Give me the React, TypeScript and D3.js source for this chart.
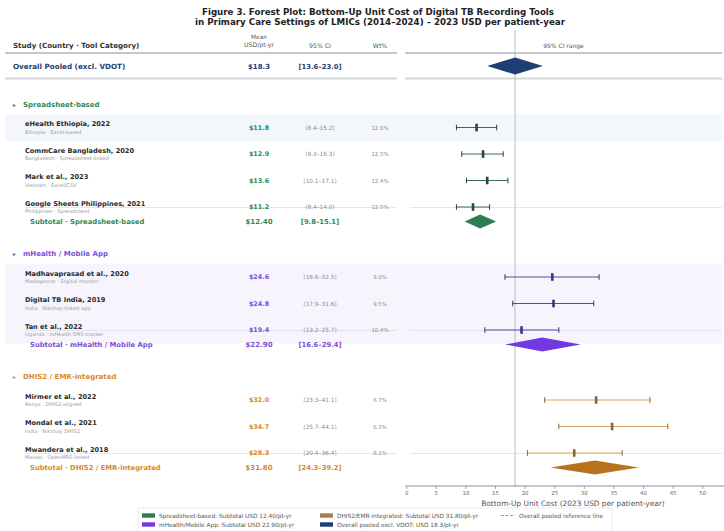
import React from "react";
import * as d3 from "d3";

// ---- data -------------------------------------------------------------
const groupNames = ["Spreadsheet-based", "mHealth / Mobile App", "DHIS2 / EMR-integrated"];
const groupText = ["#2e8b57", "#7a4fd6", "#d98a2b"];
const groupFill = ["#2e7d4f", "#7338e0", "#b8721c"];
const groupLine = ["#3d6b55", "#5a4a9e", "#d4a865"];
const groupMark = ["#234a38", "#3f2f86", "#8a6433"];
const groupShade = ["#f3f6fa", "#f6f5fd", "#ffffff"];

const studyNames = [
  "eHealth Ethiopia, 2022",
  "CommCare Bangladesh, 2020",
  "Mark et al., 2023",
  "Google Sheets Philippines, 2021",
  "Madhavaprasad et al., 2020",
  "Digital TB India, 2019",
  "Tan et al., 2022",
  "Mirmer et al., 2022",
  "Mondal et al., 2021",
  "Mwandera et al., 2018",
];
const studySubtitles = [
  "Ethiopia · Excel-based",
  "Bangladesh · Spreadsheet-linked",
  "Vietnam · Excel/CSV",
  "Philippines · Spreadsheet",
  "Madagascar · Digital monitor",
  "India · Nikshay-linked app",
  "Uganda · mHealth SMS tracker",
  "Kenya · DHIS2-aligned",
  "India · Nikshay DHIS2",
  "Malawi · OpenMRS-linked",
];
const studyGroup = [0, 0, 0, 0, 1, 1, 1, 2, 2, 2];
const studyMeans = [11.8, 12.9, 13.6, 11.2, 24.6, 24.8, 19.4, 32.0, 34.7, 28.3];
const studyLow = [8.4, 9.3, 10.1, 8.4, 16.6, 17.9, 13.2, 23.3, 25.7, 20.4];
const studyHigh = [15.2, 16.3, 17.1, 14.0, 32.5, 31.6, 25.7, 41.1, 44.1, 36.4];
const studyWeights = [12.6, 12.5, 12.4, 12.5, 9.0, 9.5, 10.4, 6.7, 6.3, 8.1];
const studyShaded = [true, false, false, false, true, true, true, false, false, false];

const subtotalMeans = [12.4, 22.9, 31.8];
const subtotalLow = [9.8, 16.6, 24.3];
const subtotalHigh = [15.1, 29.4, 39.2];

const overallMean = 18.3;
const overallLow = 13.6;
const overallHigh = 23.0;

const xTicks = [0, 5, 10, 15, 20, 25, 30, 35, 40, 45, 50];

const legendItems = [
  { label: "Spreadsheet-based: Subtotal USD 12.40/pt-yr", color: groupFill[0], col: 0, row: 0 },
  { label: "mHealth/Mobile App: Subtotal USD 22.90/pt-yr", color: groupFill[1], col: 0, row: 1 },
  { label: "DHIS2/EMR-integrated: Subtotal USD 31.80/pt-yr", color: "#a67c52", col: 1, row: 0 },
  { label: "Overall pooled excl. VDOT: USD 18.3/pt-yr", color: "#1f3f73", col: 1, row: 1 },
];

// ---- layout -----------------------------------------------------------
const W = 724;
const H = 531;
const FONT = "DejaVu Sans, Verdana, sans-serif";
const NAVY = "#1f3f73";

const xCol = { study: 13, mean: 259, ci: 320, wt: 380 };
const leftPanel = [5, 397];
const rightPanel = [405, 722];
const axisY = 486;

const x = d3.scaleLinear().domain([0, 53.6]).range([406.7, 724]);

type Row =
  | { kind: "group"; g: number; y: number }
  | { kind: "study"; i: number; y: number }
  | { kind: "subtotal"; g: number; y: number };

function buildRows(): Row[] {
  const rows: Row[] = [];
  let y = 104;
  groupNames.forEach((_, g) => {
    rows.push({ kind: "group", g, y });
    y += 23.5;
    const members = studyGroup.map((sg, i) => (sg === g ? i : -1)).filter((i) => i >= 0);
    members.forEach((i, k) => {
      rows.push({ kind: "study", i, y });
      if (k < members.length - 1) y += 26.5;
    });
    y += 14.5;
    rows.push({ kind: "subtotal", g, y });
    y += 32;
  });
  return rows;
}

const fmt1 = d3.format(".1f");
const fmt2 = d3.format(".2f");

function Diamond({ lo, mid, hi, y, h, fill }: { lo: number; mid: number; hi: number; y: number; h: number; fill: string }) {
  const p = [
    [x(lo), y],
    [x(mid), y - h / 2],
    [x(hi), y],
    [x(mid), y + h / 2],
  ];
  return <path d={d3.line()(p as [number, number][]) + "Z"} fill={fill} />;
}

export default function App() {
  const rows = buildRows();
  const lastStudyY: number[] = [];
  rows.forEach((r) => {
    if (r.kind === "study") lastStudyY[studyGroup[r.i]] = r.y;
  });

  return (
    <svg
      width={W}
      height={H}
      viewBox={`0 0 ${W} ${H}`}
      style={{ position: "absolute", left: 0, top: 0, background: "#fff" }}
      fontFamily={FONT}
    >
      {/* title */}
      <text x={378} y={14.5} textAnchor="middle" fontSize={8.7} fontWeight="bold" fill="#222">
        Figure 3. Forest Plot: Bottom-Up Unit Cost of Digital TB Recording Tools
      </text>
      <text x={380} y={24.5} textAnchor="middle" fontSize={8.7} fontWeight="bold" fill="#222">
        in Primary Care Settings of LMICs (2014–2024) – 2023 USD per patient-year
      </text>

      {/* row shading */}
      {rows.map((r, k) =>
        r.kind === "study" && studyShaded[r.i] ? (
          <rect
            key={"sh" + k}
            x={leftPanel[0]}
            y={r.y - 13.5}
            width={rightPanel[1] - leftPanel[0]}
            height={27}
            fill={groupShade[studyGroup[r.i]]}
          />
        ) : null
      )}

      {/* header */}
      <text x={xCol.study} y={48} fontSize={7.1} fontWeight="bold" fill="#333">
        Study  (Country · Tool Category)
      </text>
      <text x={xCol.mean} y={38.5} textAnchor="middle" fontSize={5.8} fill="#555">Mean</text>
      <text x={xCol.mean} y={46.5} textAnchor="middle" fontSize={6.2} fill="#555">USD/pt-yr</text>
      <text x={xCol.ci} y={47.5} textAnchor="middle" fontSize={6.2} fill="#555">95% CI</text>
      <text x={xCol.wt} y={47.5} textAnchor="middle" fontSize={6.2} fill="#555">Wt%</text>
      <text x={(rightPanel[0] + rightPanel[1]) / 2} y={47.5} textAnchor="middle" fontSize={6} fill="#555">
        95% CI range
      </text>
      <line x1={leftPanel[0]} x2={leftPanel[1]} y1={53} y2={53} stroke="#8a8f98" strokeWidth={1.1} />
      <line x1={rightPanel[0]} x2={rightPanel[1]} y1={53} y2={53} stroke="#8a8f98" strokeWidth={1.1} />

      {/* overall pooled row */}
      <text x={xCol.study} y={68.5} fontSize={7.2} fontWeight="bold" fill={NAVY}>
        Overall Pooled  (excl. VDOT)
      </text>
      <text x={xCol.mean} y={68.5} textAnchor="middle" fontSize={7} fontWeight="bold" fill={NAVY}>
        ${fmt1(overallMean)}
      </text>
      <text x={xCol.ci} y={68.5} textAnchor="middle" fontSize={6.8} fontWeight="bold" fill={NAVY}>
        [{fmt1(overallLow)}–{fmt1(overallHigh)}]
      </text>
      <line x1={leftPanel[0]} x2={leftPanel[1]} y1={78.5} y2={78.5} stroke="#d4d7dc" strokeWidth={1.8} />
      <line x1={rightPanel[0]} x2={rightPanel[1]} y1={78.5} y2={78.5} stroke="#d4d7dc" strokeWidth={1.8} />

      {/* overall reference line */}
      <line x1={x(overallMean)} x2={x(overallMean)} y1={30} y2={axisY} stroke="#aeb6c4" strokeWidth={0.9} />

      <Diamond lo={overallLow} mid={overallMean} hi={overallHigh} y={66} h={17} fill={NAVY} />

      {/* subtotal separator lines */}
      {lastStudyY.map((y, g) => (
        <g key={"sep" + g}>
          <line x1={leftPanel[0] + 20} x2={leftPanel[1]} y1={y + 0.5} y2={y + 0.5} stroke="#dcdfe4" strokeWidth={0.8} />
          <line x1={rightPanel[0] + 5} x2={rightPanel[1]} y1={y + 0.5} y2={y + 0.5} stroke="#dcdfe4" strokeWidth={0.8} />
        </g>
      ))}

      {rows.map((r, k) => {
        if (r.kind === "group") {
          return (
            <g key={k}>
              <text x={xCol.study} y={r.y + 2.5} fontSize={6} fill={groupText[r.g]}>▸</text>
              <text x={23} y={r.y + 2.5} fontSize={7} fontWeight="bold" fill={groupText[r.g]}>
                {groupNames[r.g]}
              </text>
            </g>
          );
        }
        if (r.kind === "study") {
          const i = r.i;
          const g = studyGroup[i];
          const y = r.y;
          return (
            <g key={k}>
              <text x={25} y={y - 1.5} fontSize={6.6} fontWeight="bold" fill="#2a2a2a">
                {studyNames[i]}
              </text>
              <text x={25} y={y + 6.3} fontSize={5.1} fill="#9a9a9a">
                {studySubtitles[i]}
              </text>
              <text x={xCol.mean} y={y + 2.3} textAnchor="middle" fontSize={6.4} fontWeight="bold" fill={groupText[g]}>
                ${fmt1(studyMeans[i])}
              </text>
              <text x={xCol.ci} y={y + 2} textAnchor="middle" fontSize={5.8} fill="#8c8c8c">
                ({fmt1(studyLow[i])}–{fmt1(studyHigh[i])})
              </text>
              <text x={xCol.wt} y={y + 2} textAnchor="middle" fontSize={5.4} fill="#8c8c8c">
                {fmt1(studyWeights[i])}%
              </text>
              {/* CI whisker */}
              <line x1={x(studyLow[i])} x2={x(studyHigh[i])} y1={y} y2={y} stroke={groupLine[g]} strokeWidth={1} />
              <line x1={x(studyLow[i])} x2={x(studyLow[i])} y1={y - 2.8} y2={y + 2.8} stroke={groupMark[g]} strokeWidth={1} />
              <line x1={x(studyHigh[i])} x2={x(studyHigh[i])} y1={y - 2.8} y2={y + 2.8} stroke={groupMark[g]} strokeWidth={1} />
              <rect x={x(studyMeans[i]) - 1.3} y={y - 3.8} width={2.6} height={7.6} fill={groupMark[g]} />
            </g>
          );
        }
        const g = r.g;
        return (
          <g key={k}>
            <text x={30} y={r.y + 2.3} fontSize={6.8} fontWeight="bold" fill={groupText[g]}>
              Subtotal · {groupNames[g]}
            </text>
            <text x={xCol.mean} y={r.y + 2.3} textAnchor="middle" fontSize={7} fontWeight="bold" fill={groupText[g]}>
              ${fmt2(subtotalMeans[g])}
            </text>
            <text x={xCol.ci} y={r.y + 2.3} textAnchor="middle" fontSize={6.8} fontWeight="bold" fill={groupText[g]}>
              [{fmt1(subtotalLow[g])}–{fmt1(subtotalHigh[g])}]
            </text>
            <Diamond lo={subtotalLow[g]} mid={subtotalMeans[g]} hi={subtotalHigh[g]} y={r.y} h={14} fill={groupFill[g]} />
          </g>
        );
      })}

      {/* x axis */}
      <line x1={x.range()[0] - 1} x2={x.range()[1]} y1={axisY} y2={axisY} stroke="#8a8f98" strokeWidth={1} />
      {xTicks.map((t) => (
        <g key={"t" + t}>
          <line x1={x(t)} x2={x(t)} y1={axisY} y2={axisY + 3} stroke="#8a8f98" strokeWidth={0.8} />
          <text x={x(t)} y={axisY + 8.8} textAnchor="middle" fontSize={5.4} fill="#666">
            {t}
          </text>
        </g>
      ))}
      <text x={573} y={505.5} textAnchor="middle" fontSize={7.4} fill="#555">
        Bottom-Up Unit Cost  (2023 USD per patient-year)
      </text>

      {/* legend */}
      <rect x={138} y={508} width={474} height={30} fill="none" stroke="#e3e5e9" strokeWidth={0.8} />
      {legendItems.map((it) => {
        const lx = it.col === 0 ? 142 : 320;
        const ly = 515.5 + it.row * 9;
        return (
          <g key={it.label}>
            <rect x={lx} y={ly - 2.2} width={13} height={4.4} fill={it.color} />
            <text x={lx + 17} y={ly + 2} fontSize={5.8} fill="#555">{it.label}</text>
          </g>
        );
      })}
      <line x1={501} x2={515} y1={515.5} y2={515.5} stroke="#8a93a3" strokeWidth={0.9} strokeDasharray="3,1.5" />
      <text x={519} y={517.5} fontSize={5.8} fill="#555">Overall pooled reference line</text>
    </svg>
  );
}
